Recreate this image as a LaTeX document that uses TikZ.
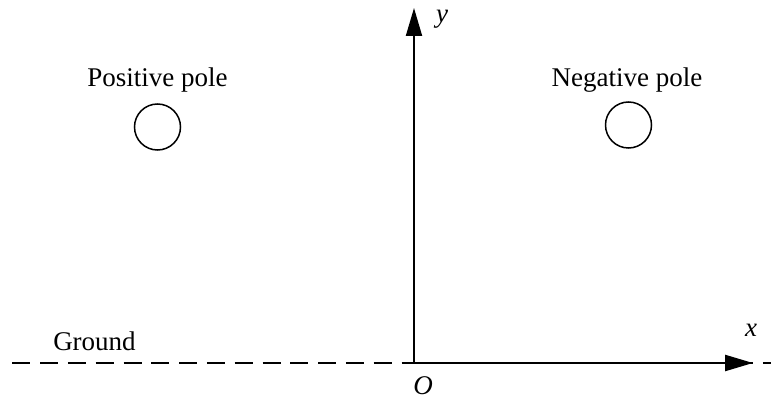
\documentclass[tikz,border=0pt]{standalone}
\usepackage{fontspec}
\setmainfont{Liberation Serif}
\usetikzlibrary{arrows.meta}
\tikzset{
  axis/.style={line width=2.4pt,-{Triangle[length=28pt,width=16pt]}},
  groundline/.style={line width=2.2pt,dash pattern=on 18pt off 9.8pt},
  pole/.style={circle,draw,line width=1.5pt,minimum size=46pt,inner sep=0pt},
  lbl/.style={font=\fontsize{27}{32}\selectfont,inner sep=0pt},
}
\begin{document}
\begin{tikzpicture}[x=1pt,y=-1pt]
  \useasboundingbox (0,0) rectangle (771,414);
  % ground
  \coordinate (gl) at (12.3,363);
  \coordinate (gr) at (771,363);
  \draw[groundline] (gl) -- (gr);
  \node[lbl,anchor=base] (ground) at (94.5,350) {Ground};
  % axes
  \coordinate (O) at (414,363);
  \coordinate (xend) at (753,363);
  \coordinate (yend) at (414,8);
  \draw[axis] (O) -- (xend);
  \draw[axis,line width=2pt] (O) -- (yend);
  \node[lbl] (xlab) at (751,330) {\itshape x};
  \node[lbl] (ylab) at (442,19) {\itshape y};
  \node[lbl] (olab) at (423,386) {\itshape O};
  % poles
  \node[pole] (pp) at (157.5,127) {};
  \node[pole] (np) at (628.5,125) {};
  \node[lbl,anchor=base] (pplab) at (157.5,87) {Positive pole};
  \node[lbl,anchor=base] (nplab) at (627,87) {Negative pole};
\end{tikzpicture}
\end{document}
